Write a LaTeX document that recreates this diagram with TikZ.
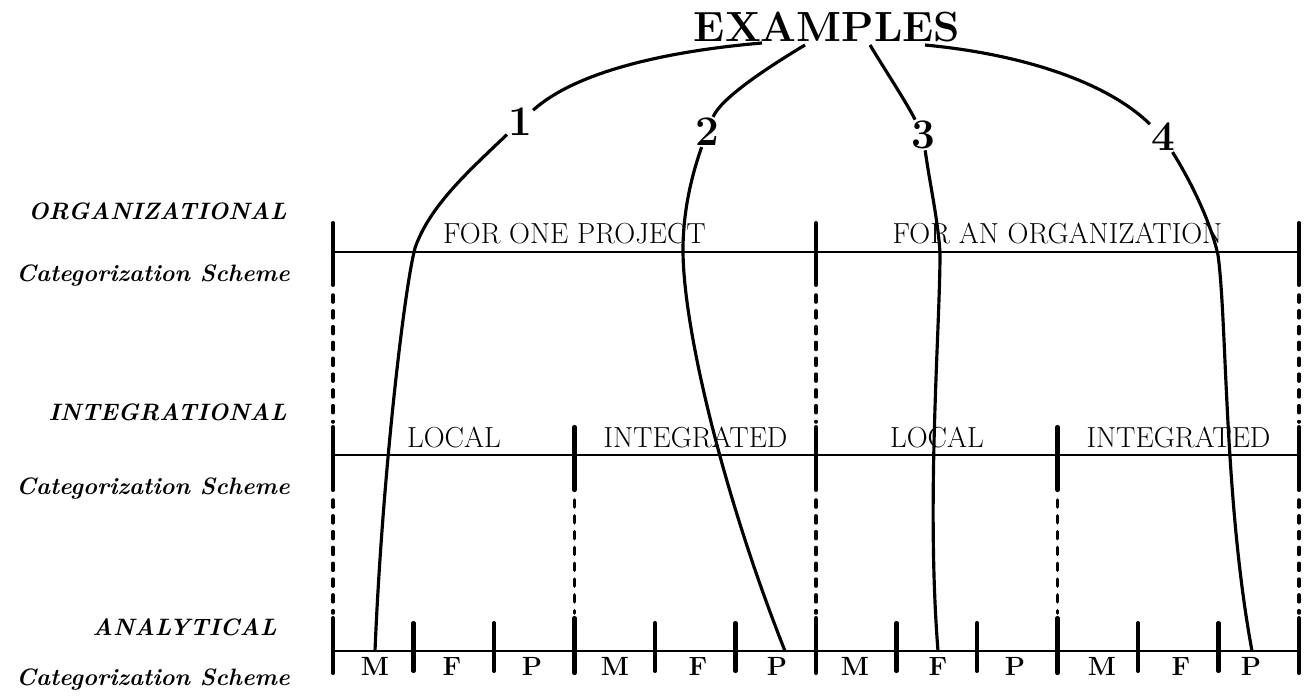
\documentclass[tikz,border=0pt]{standalone}
\usepackage{tikz}

\begin{document}
\begin{tikzpicture}[x=1cm,y=1cm,
  rule/.style={line width=1.7pt},
  bar/.style={line width=2.3pt,line cap=round},
  guide/.style={line width=2pt,line cap=round,dash pattern=on 4pt off 5pt},
  link/.style={line width=1.8pt},
  side/.style={anchor=base east,inner sep=0pt,font=\fontsize{13.5}{16}\selectfont\bfseries\itshape},
  band/.style={anchor=base,inner sep=0pt,font=\fontsize{16.5}{19}\selectfont},
  cell/.style={anchor=base,inner sep=0pt,font=\fontsize{15}{17}\selectfont\bfseries},
  num/.style={inner sep=0.5pt,font=\fontsize{24}{24}\selectfont\bfseries}]
\path[use as bounding box] (0,0) rectangle (26.12,13.96);
% scheme names on the left
\node[side] (orgname) at (5.74,9.58) {ORGANIZATIONAL};
\node[side] (orgcat) at (5.80,8.34) {Categorization Scheme};
\node[side] (intname) at (5.74,5.56) {INTEGRATIONAL};
\node[side] (intcat) at (5.80,4.08) {Categorization Scheme};
\node[side] (ananame) at (5.54,1.26) {ANALYTICAL};
\node[side] (anacat) at (5.80,0.26) {Categorization Scheme};
% organizational level
\draw[rule] (6.66,8.92) -- (25.98,8.92);
\draw[bar] (6.66,9.50) -- (6.66,8.26);
\draw[bar] (16.32,9.50) -- (16.32,8.26);
\draw[bar] (25.98,9.50) -- (25.98,8.26);
\node[band] (oneproj) at (11.49,9.10) {FOR ONE PROJECT};
\node[band] (anorg) at (21.15,9.10) {FOR AN ORGANIZATION};
\draw[guide] (6.66,8.06) -- (6.66,5.52);
\draw[guide] (16.32,8.06) -- (16.32,5.52);
\draw[guide] (25.98,8.06) -- (25.98,5.52);
% integrational level
\draw[rule] (6.66,4.86) -- (25.98,4.86);
\draw[bar] (6.66,5.42) -- (6.66,4.16);
\draw[bar] (11.49,5.42) -- (11.49,4.16);
\draw[bar] (16.32,5.42) -- (16.32,4.16);
\draw[bar] (21.15,5.42) -- (21.15,4.16);
\draw[bar] (25.98,5.42) -- (25.98,4.16);
\node[band] (local1) at (9.08,5.02) {LOCAL};
\node[band] (integ1) at (13.91,5.02) {INTEGRATED};
\node[band] (local2) at (18.74,5.02) {LOCAL};
\node[band] (integ2) at (23.57,5.02) {INTEGRATED};
\draw[guide] (6.66,3.96) -- (6.66,1.70);
\draw[guide] (11.49,3.96) -- (11.49,1.70);
\draw[guide] (16.32,3.96) -- (16.32,1.70);
\draw[guide] (21.15,3.96) -- (21.15,1.70);
\draw[guide] (25.98,3.96) -- (25.98,1.70);
% analytical level
\draw[rule] (6.66,0.94) -- (25.98,0.94);
\draw[bar] (6.66,1.60) -- (6.66,0.50);
\draw[bar] (8.27,1.50) -- (8.27,0.54);
\draw[bar] (9.88,1.50) -- (9.88,0.54);
\draw[bar] (11.49,1.60) -- (11.49,0.50);
\draw[bar] (13.10,1.50) -- (13.10,0.54);
\draw[bar] (14.71,1.50) -- (14.71,0.54);
\draw[bar] (16.32,1.60) -- (16.32,0.50);
\draw[bar] (17.93,1.50) -- (17.93,0.54);
\draw[bar] (19.54,1.50) -- (19.54,0.54);
\draw[bar] (21.15,1.60) -- (21.15,0.50);
\draw[bar] (22.76,1.50) -- (22.76,0.54);
\draw[bar] (24.37,1.50) -- (24.37,0.54);
\draw[bar] (25.98,1.60) -- (25.98,0.50);
\node[cell] (m1) at (7.50,0.46) {M};
\node[cell] (f1) at (9.04,0.46) {F};
\node[cell] (p1) at (10.64,0.46) {P};
\node[cell] (m2) at (12.30,0.46) {M};
\node[cell] (f2) at (13.96,0.46) {F};
\node[cell] (p2) at (15.54,0.46) {P};
\node[cell] (m3) at (17.10,0.46) {M};
\node[cell] (f3) at (18.76,0.46) {F};
\node[cell] (p3) at (20.30,0.46) {P};
\node[cell] (m4) at (22.04,0.46) {M};
\node[cell] (f4) at (23.62,0.46) {F};
\node[cell] (p4) at (25.02,0.46) {P};
% examples
\node[font=\fontsize{24}{28}\selectfont\bfseries] (examples) at (16.54,13.42) {EXAMPLES};
\node[num] (n1) at (10.40,11.52) {1};
\node[num] (n2) at (14.14,11.32) {2};
\node[num] (n3) at (18.46,11.26) {3};
\node[num] (n4) at (23.26,11.22) {4};
\coordinate (s1) at (15.24,13.10);
\coordinate (s2) at (16.10,13.06);
\coordinate (s3) at (17.40,13.06);
\coordinate (s4) at (18.50,13.06);
\coordinate (e1) at (7.50,0.94);
\coordinate (e2) at (15.70,0.94);
\coordinate (e3) at (18.76,0.94);
\coordinate (e4) at (25.04,0.94);
\draw[link] (s1) .. controls (13.60,12.96) and (11.60,12.60) .. (n1);
\draw[link] (n1) .. controls (9.40,10.56) and (8.60,9.86) .. (8.30,9.00) .. controls (8.08,8.16) and (7.64,4.36) .. (e1);
\draw[link] (s2) .. controls (15.20,12.52) and (14.40,11.96) .. (n2);
\draw[link] (n2) .. controls (13.80,10.36) and (13.66,9.66) .. (13.66,8.96) .. controls (13.66,7.36) and (14.50,3.96) .. (e2);
\draw[link] (s3) .. controls (17.70,12.56) and (18.10,11.96) .. (n3);
\draw[link] (n3) .. controls (18.60,10.26) and (18.76,9.56) .. (18.80,8.90) .. controls (18.80,7.36) and (18.52,3.96) .. (e3);
\draw[link] (s4) .. controls (20.60,12.86) and (22.20,12.26) .. (n4);
\draw[link] (n4) .. controls (23.80,10.36) and (24.20,9.56) .. (24.36,8.86) .. controls (24.54,7.56) and (24.48,3.96) .. (e4);
\end{tikzpicture}
\end{document}
